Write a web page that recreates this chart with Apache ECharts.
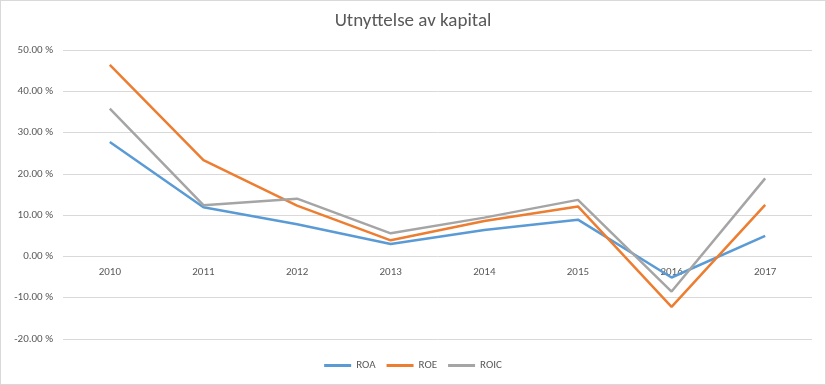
<!DOCTYPE html>
<html><head><meta charset="utf-8">
<script src="https://cdn.jsdelivr.net/npm/echarts@6/dist/echarts.min.js"></script>
<style>
html,body{margin:0;padding:0;background:#fff;}
#c{width:824px;height:383px;border:1px solid #d9d9d9;}
</style></head>
<body><div id="c"></div>
<script>
const categories = ['2010','2011','2012','2013','2014','2015','2016','2017'];
const roa  = [27.7, 11.9, 7.8, 3.0, 6.4, 8.9, -5.1, 5.0];
const roe  = [46.4, 23.3, 12.3, 3.9, 8.6, 12.1, -12.2, 12.5];
const roic = [35.8, 12.4, 14.0, 5.6, 9.4, 13.7, -8.5, 18.9];
const seriesNames = ['ROA','ROE','ROIC'];
const colors = ['#5B9BD5','#ED7D31','#A5A5A5'];
const yMin = -20, yMax = 50;
const gridTop = 49, gridBottom = 45, chartH = 383;
const plotH = chartH - gridTop - gridBottom;
const chart = echarts.init(document.getElementById('c'));
const font = 'Calibri, Carlito, "Liberation Sans", "DejaVu Sans", sans-serif';
chart.setOption({
  animation:false,
  title:{text:'Utnyttelse av kapital',left:'center',top:6,textStyle:{fontFamily:font,fontSize:19,fontWeight:'normal',color:'#595959'}},
  grid:{show:true,borderWidth:0,borderColor:'rgba(0,0,0,0)',backgroundColor:'rgba(0,0,0,0)',left:62,right:13,top:gridTop,bottom:gridBottom},
  legend:{bottom:8,left:'center',icon:'rect',itemWidth:27,itemHeight:3,itemGap:11,
    textStyle:{fontFamily:font,fontSize:11,color:'#595959'},data:seriesNames},
  xAxis:{type:'category',data:categories,boundaryGap:true,position:'bottom',
    offset:-Math.round(plotH*(0-yMin)/(yMax-yMin)),
    axisLine:{show:false,onZero:false},axisTick:{show:false},
    splitLine:{show:false},minorSplitLine:{show:false},splitArea:{show:false},
    axisLabel:{fontFamily:font,fontSize:11,color:'#595959',margin:11}},
  yAxis:{type:'value',min:yMin,max:yMax,interval:10,
    axisLine:{show:false},axisTick:{show:false},splitArea:{show:false},minorSplitLine:{show:false},
    splitLine:{lineStyle:{color:'#d9d9d9'}},
    axisLabel:{fontFamily:font,fontSize:11,color:'#595959',margin:10,formatter:v=>v.toFixed(2)+' %'}},
  series:[roa,roe,roic].map((d,i)=>({name:seriesNames[i],type:'line',data:d,symbol:'none',
    itemStyle:{color:colors[i]},lineStyle:{width:2.5,color:colors[i]}}))
});
</script></body></html>
